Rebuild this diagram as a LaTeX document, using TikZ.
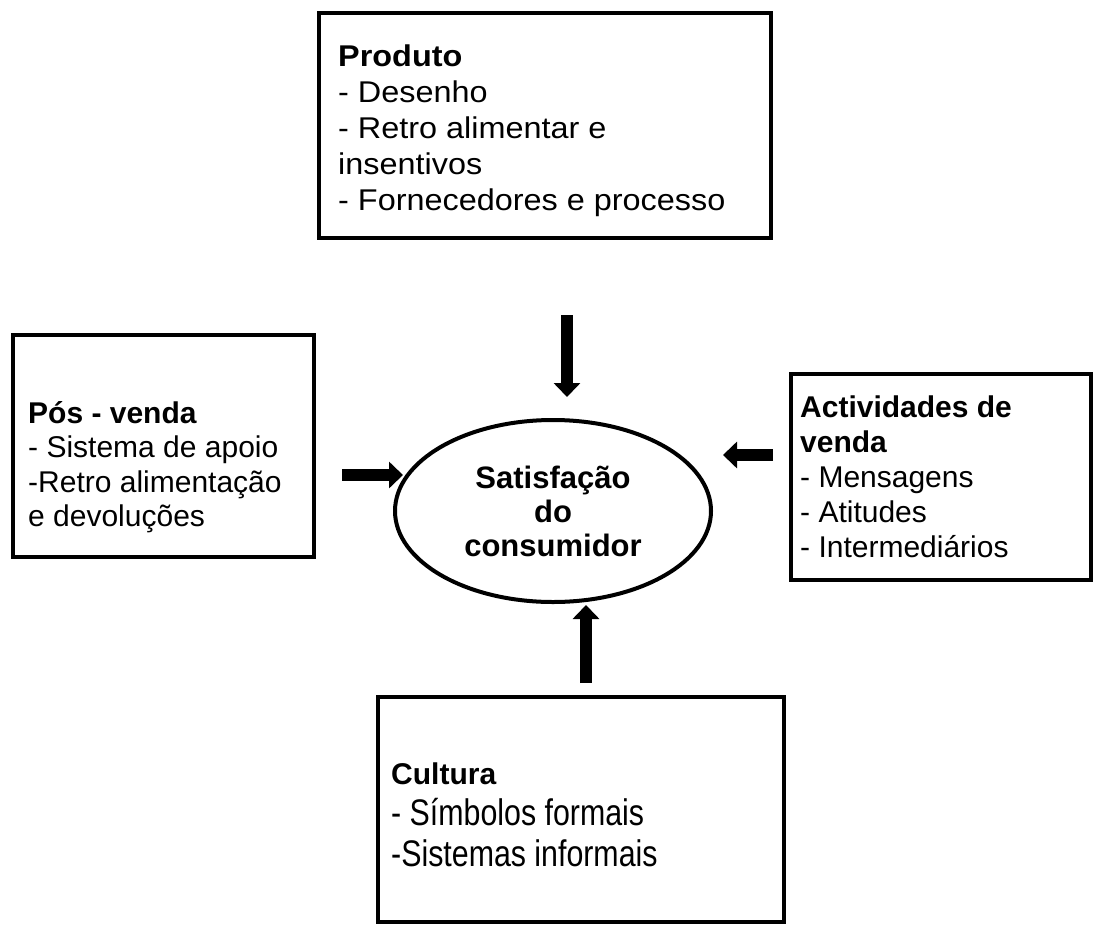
\documentclass[tikz,border=0pt]{standalone}
\usepackage{fontspec}
\setmainfont{Liberation Sans}
\newfontfamily\condfont[FakeStretch=0.82]{Liberation Sans}
\newfontfamily\widefont[FakeStretch=1.08]{Liberation Sans}
\usetikzlibrary{arrows.meta,shapes.geometric}
\begin{document}
\begin{tikzpicture}[x=1pt,y=-1pt,
  box/.style={draw,line width=4pt,rectangle,inner sep=0pt},
  txt/.style={anchor=base west,align=left,inner sep=0pt,font=\fontsize{30}{36}\selectfont},
  arr/.style={line width=12pt,-{Triangle[length=14pt,width=26pt]}}]
\useasboundingbox (0,0) rectangle (1094,926);
% boxes
\node[box,minimum width=452pt,minimum height=225pt] (prod) at (545,125.5) {};
\node[box,minimum width=301pt,minimum height=222pt] (pos) at (163,446) {};
\node[box,minimum width=300pt,minimum height=206pt] (act) at (941,477) {};
\node[box,minimum width=406pt,minimum height=225pt] (cult) at (581,809.5) {};
\node[draw,ellipse,line width=4pt,inner sep=0pt,minimum width=316pt,minimum height=182pt,
  align=center,font=\bfseries\fontsize{31}{34}\selectfont] (sat) at (553,511)
  {Satisfação\\do\\consumidor};
% texts (anchor = baseline of last line)
\node[txt,font=\widefont\fontsize{30}{36}\selectfont] (prodt) at (338,210) {\textbf{Produto}\\- Desenho\\- Retro alimentar e\\insentivos\\- Fornecedores e processo};
\node[txt,font=\fontsize{30}{34.5}\selectfont] (post) at (28,526.5) {\textbf{Pós - venda}\\- Sistema de apoio\\-Retro alimentação\\e devoluções};
\node[txt,font=\fontsize{30}{35}\selectfont] (actt) at (800,557) {\textbf{Actividades de}\\\textbf{venda}\\- Mensagens\\- Atitudes\\- Intermediários};
\node[txt] (cultt) at (391,784) {\textbf{Cultura}};
\node[txt,font=\condfont\fontsize{37}{41}\selectfont] (cultb) at (391,866) {- Símbolos formais\\-Sistemas informais};
% arrow ends
\coordinate (d1) at (567,315); \coordinate (d2) at (567,397);
\coordinate (l1) at (342,475); \coordinate (l2) at (403,475);
\coordinate (r1) at (773,455); \coordinate (r2) at (723,455);
\coordinate (u1) at (586,683); \coordinate (u2) at (586,605);
\draw[arr] (d1) -- (d2);
\draw[arr] (l1) -- (l2);
\draw[arr] (r1) -- (r2);
\draw[arr] (u1) -- (u2);
\end{tikzpicture}
\end{document}
